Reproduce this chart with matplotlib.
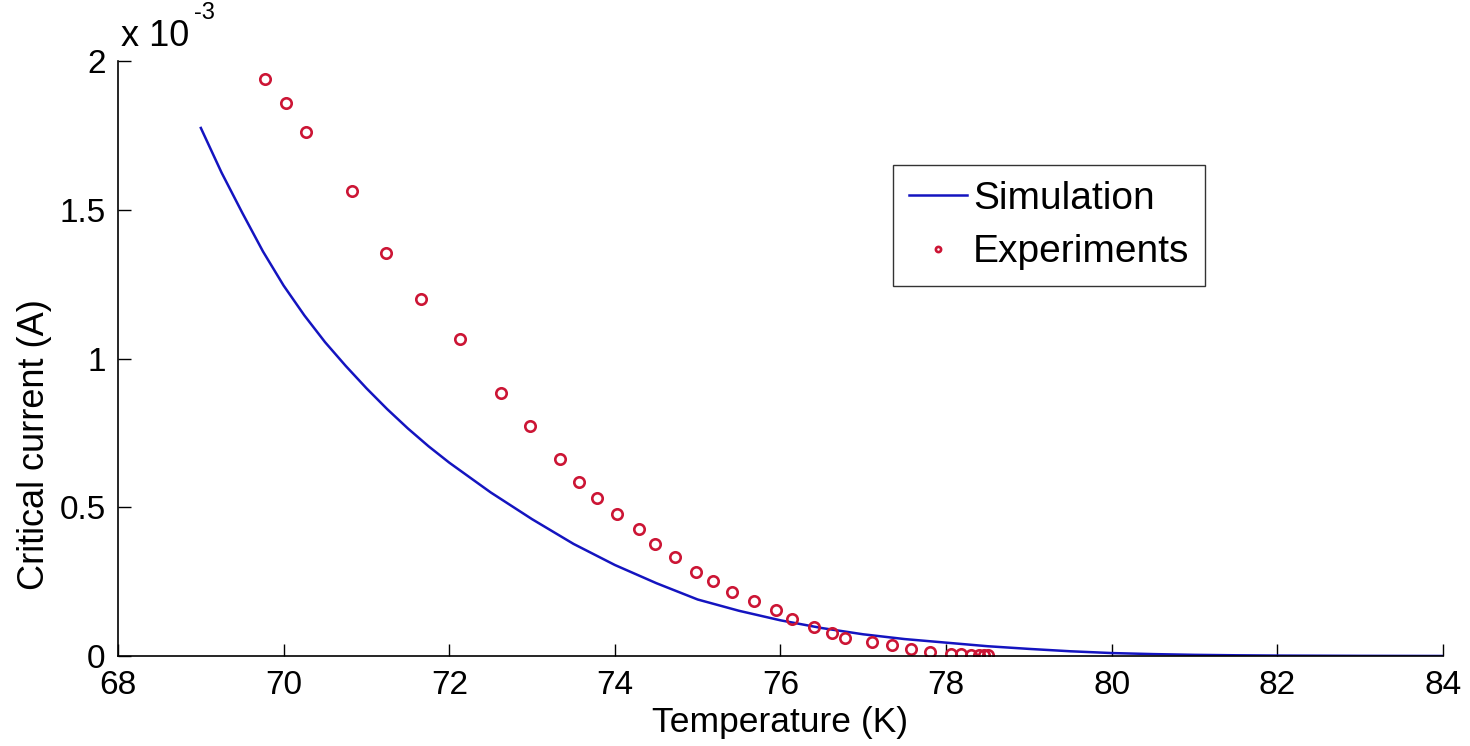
import matplotlib
matplotlib.use("Agg")
import matplotlib.pyplot as plt

plt.rcParams['font.family'] = ['Liberation Sans', 'DejaVu Sans']

# Simulation curve (Temperature K, critical current in units of 1e-3 A)
sim_T = [69.0, 69.25, 69.5, 69.75, 70.0, 70.25, 70.5, 70.75, 71.0, 71.25, 71.5, 71.75,
         72.0, 72.5, 73.0, 73.5, 74.0, 74.5, 75.0, 75.5, 76.0, 76.5, 77.0, 77.5,
         78.0, 78.5, 79.0, 79.5, 80.0, 80.5, 81.0, 81.5, 82.0, 83.0, 84.0]
sim_I = [1.775, 1.625, 1.49, 1.36, 1.245, 1.145, 1.055, 0.975, 0.90, 0.83, 0.765, 0.705,
         0.65, 0.55, 0.46, 0.377, 0.306, 0.245, 0.19, 0.152, 0.12, 0.094, 0.073, 0.057,
         0.045, 0.033, 0.024, 0.016, 0.010, 0.0065, 0.004, 0.0025, 0.0015, 0.0006, 0.0002]

# Experimental points
exp_T = [69.78, 70.03, 70.27, 70.83, 71.23, 71.66, 72.13, 72.62, 72.97, 73.34, 73.57,
         73.78, 74.03, 74.29, 74.48, 74.73, 74.98, 75.19, 75.42, 75.68, 75.94, 76.14,
         76.40, 76.62, 76.78, 77.10, 77.35, 77.58, 77.80, 78.06, 78.18, 78.30, 78.40,
         78.46, 78.50]
exp_I = [1.94, 1.86, 1.76, 1.564, 1.356, 1.20, 1.064, 0.883, 0.772, 0.661, 0.584,
         0.530, 0.477, 0.426, 0.378, 0.332, 0.282, 0.252, 0.215, 0.185, 0.154, 0.124,
         0.097, 0.077, 0.062, 0.047, 0.038, 0.024, 0.013, 0.007, 0.006, 0.005, 0.004,
         0.003, 0.003]

x_ticks = [68, 70, 72, 74, 76, 78, 80, 82, 84]
y_ticks = [0, 0.5, 1, 1.5, 2]
y_tick_labels = ['0', '0.5', '1', '1.5', '2']

fig = plt.figure(figsize=(14.7, 7.46), dpi=100)
ax = fig.add_axes([0.0803, 0.1206, 0.9013, 0.7976])

ax.plot(sim_T, sim_I, color='#1414c0', lw=1.8, label='Simulation')
ax.plot(exp_T, exp_I, linestyle='none', marker='o', markersize=7.5,
        markerfacecolor='none', markeredgecolor='#cc1535', markeredgewidth=1.9,
        label='Experiments')

ax.set_xlim(68, 84)
ax.set_ylim(0, 2)
ax.set_xticks(x_ticks)
ax.set_yticks(y_ticks)
ax.set_yticklabels(y_tick_labels)
ax.tick_params(direction='in', length=9, width=1, labelsize=24)
ax.tick_params(axis='x', pad=10)
ax.tick_params(axis='y', pad=9)
ax.spines['top'].set_visible(False)
ax.spines['right'].set_visible(False)
for s in ('left', 'bottom'):
    ax.spines[s].set_linewidth(1.2)

ax.set_xlabel('Temperature (K)', fontsize=25.5, labelpad=4)
ax.set_ylabel('Critical current (A)', fontsize=26)
ax.yaxis.set_label_coords(-0.05, 0.356)

ax.text(0.002, 1.012, 'x 10', transform=ax.transAxes, fontsize=26, ha='left', va='bottom')
ax.text(0.057, 1.062, '-3', transform=ax.transAxes, fontsize=17, ha='left', va='bottom')

leg = ax.legend(loc='upper left', bbox_to_anchor=(0.585, 0.825), fontsize=28,
                frameon=True, fancybox=False, handlelength=1.5, handletextpad=0.15,
                borderpad=0.4, labelspacing=0.45, markerscale=0.5, borderaxespad=0)
leg.get_frame().set_edgecolor('black')
leg.get_frame().set_linewidth(1.0)

fig.savefig('out.png', dpi=100, facecolor='white')
